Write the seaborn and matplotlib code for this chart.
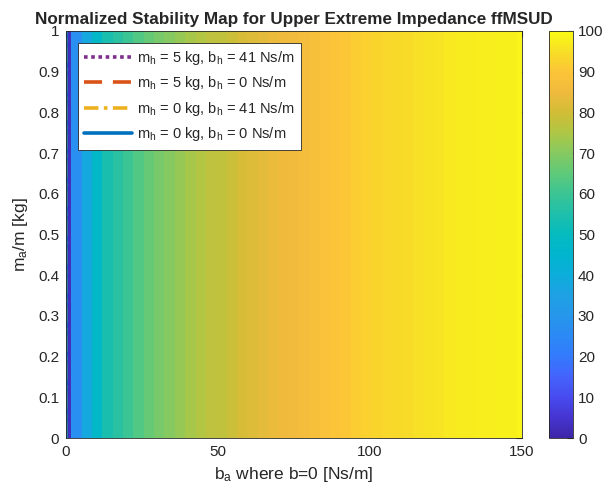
import numpy as np
import matplotlib
matplotlib.use("Agg")
import matplotlib.pyplot as plt
from matplotlib.colors import LinearSegmentedColormap
import seaborn as sns

# damping values b_a along the x axis (cell centres) and ma/m rows
b_a = np.linspace(0, 150, 45)
m_ratio = [0.0, 1.0]

# normalized stability for each b_a column
stability = [3, 27, 38, 48, 54, 57, 60, 63, 66, 68,
             70, 72, 74, 75.5, 77, 77.5, 79, 80.5, 82, 83,
             84, 85, 85.5, 86.5, 87.5, 88.5, 89.5, 90.5, 91.5, 92.5,
             93, 93.5, 94, 94.5, 95, 95.5, 96, 96.5, 97, 97,
             97.5, 97.5, 98, 98, 98.5]

# stability boundaries (all sit on b_a = 0)
boundary_labels = [r"m$_h$ = 5 kg, b$_h$ = 41 Ns/m",
                   r"m$_h$ = 5 kg, b$_h$ = 0 Ns/m",
                   r"m$_h$ = 0 kg, b$_h$ = 41 Ns/m",
                   r"m$_h$ = 0 kg, b$_h$ = 0 Ns/m"]
boundary_x = [[0, 0], [0, 0], [0, 0], [0, 0]]
boundary_y = [[0, 1], [0, 1], [0, 1], [0, 1]]

sns.set_style("white")
plt.rcParams["font.family"] = ["Liberation Sans", "DejaVu Sans"]
plt.rcParams["mathtext.default"] = "regular"

# approximation of MATLAB's parula
parula = LinearSegmentedColormap.from_list("parula", [
    (0.2422, 0.1504, 0.6603), (0.2717, 0.2061, 0.8200), (0.2810, 0.2980, 0.9410),
    (0.2700, 0.3900, 0.9900), (0.2000, 0.4800, 0.9900), (0.1700, 0.5400, 0.9600),
    (0.1500, 0.5900, 0.9200), (0.1200, 0.6300, 0.8900), (0.0500, 0.6800, 0.8600),
    (0.0000, 0.7100, 0.8100), (0.0200, 0.7300, 0.7500), (0.1200, 0.7500, 0.6700),
    (0.2300, 0.7700, 0.5800), (0.3700, 0.7900, 0.4800), (0.5200, 0.7900, 0.3800),
    (0.6800, 0.7800, 0.2700), (0.8200, 0.7400, 0.2100), (0.9400, 0.7300, 0.2400),
    (0.9900, 0.7700, 0.2200), (0.9700, 0.8700, 0.1500), (0.9769, 0.9839, 0.0805)])

Z = np.tile(stability, (len(m_ratio), 1))

fig = plt.figure(figsize=(6.08, 4.97), dpi=100)
ax = fig.add_axes([0.1086, 0.1187, 0.75, 0.819])
cax = fig.add_axes([0.9025, 0.1187, 0.04, 0.819])

mesh = ax.pcolormesh(b_a, m_ratio, Z, cmap=parula, vmin=0, vmax=100,
                     shading="nearest")

colors = [(0.494, 0.184, 0.556), (0.85, 0.325, 0.098),
          (0.929, 0.694, 0.125), (0.0, 0.447, 0.741)]
styles = [(0, (1, 1)), (0, (5, 3)), (0, (4, 1.5, 1, 1.5)), "-"]
for lab, xs, ys, c, ls in zip(boundary_labels, boundary_x, boundary_y, colors, styles):
    sns.lineplot(x=xs, y=ys, ax=ax, color=c, linestyle=ls, linewidth=2.6,
                 estimator=None, sort=False, label=lab)

ax.set_xlim(0, 150)
ax.set_ylim(0, 1)
ax.set_xticks([0, 50, 100, 150])
ax.set_yticks(np.arange(0, 1.01, 0.1))
ax.set_yticklabels(["0", "0.1", "0.2", "0.3", "0.4", "0.5", "0.6", "0.7", "0.8", "0.9", "1"])
ax.tick_params(direction="in", length=4, labelsize=11, colors="#262626",
               top=True, right=True, pad=5)
for s in ax.spines.values():
    s.set_color("#262626")
    s.set_linewidth(0.6)

ax.set_xlabel(r"b$_a$ where b=0 [Ns/m]", fontsize=12.5, color="#262626", labelpad=4)
ax.set_ylabel(r"m$_a$/m [kg]", fontsize=12.5, color="#262626", labelpad=6)
ax.set_title("Normalized Stability Map for Upper Extreme Impedance ffMSUD",
             fontsize=12.3, fontweight="bold", pad=5)

leg = ax.legend(loc="upper left", fontsize=10.5, handlelength=3.3,
                handletextpad=0.35, labelspacing=0.5, borderaxespad=0.8,
                fancybox=False, framealpha=1, edgecolor="#262626", borderpad=0.45)
leg.get_frame().set_linewidth(0.6)

cb = fig.colorbar(mesh, cax=cax, ticks=np.arange(0, 101, 10))
cb.ax.tick_params(direction="in", length=4, labelsize=11, colors="#262626")
cb.outline.set_linewidth(0.6)
cb.outline.set_edgecolor("#262626")

fig.savefig("out.png", dpi=100)
